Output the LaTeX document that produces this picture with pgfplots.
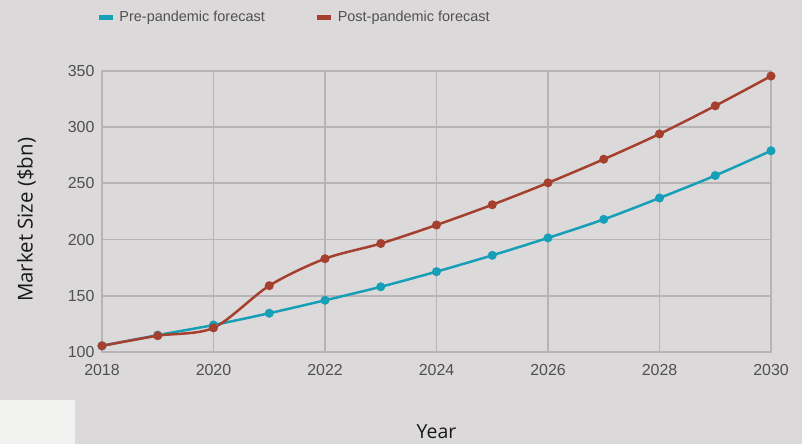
\documentclass[border=0pt]{standalone}
\usepackage{fontspec}
\setmainfont{Liberation Sans}
\newfontfamily\labelfont{Open Sans}
\usepackage{pgfplots}
\pgfplotsset{compat=1.18}

\definecolor{bg}{HTML}{DCD9DA}
\definecolor{patch}{HTML}{F2F2F1}
\definecolor{gridc}{HTML}{B6B4B5}
\definecolor{tickc}{HTML}{505050}
\definecolor{preblue}{HTML}{169FB7}
\definecolor{postred}{HTML}{A5402F}

\begin{document}
\begin{tikzpicture}[x=1bp,y=1bp]
\fill[bg] (0,0) rectangle (802,444);
\useasboundingbox (0,0) rectangle (802,444);
\fill[patch] (0,0) rectangle (75,44);
\begin{axis}[
    at={(102bp,92bp)}, anchor=south west,
    scale only axis, width=669bp, height=281bp,
    xmin=2018, xmax=2030, ymin=100, ymax=350,
    xtick={2018,2020,...,2030},
    ytick={100,150,...,350},
    /pgf/number format/1000 sep={},
    /pgf/number format/assume math mode=true,
    grid=major,
    major grid style={gridc, line width=1.8bp},
    axis line style={gridc, line width=1.8bp},
    tick style={draw=none},
    ticklabel style={font=\fontsize{16}{18}\selectfont, text=tickc},
    xticklabel style={yshift=-9bp},
    yticklabel style={xshift=-4bp},
    xlabel={Year},
    xlabel style={font=\labelfont\fontsize{19.5}{22}\selectfont, text=black!90,
        at={(axis description cs:0.5,-0.285)}, anchor=center},
    ylabel={Market Size (\$bn)},
    ylabel style={font=\labelfont\fontsize{20.5}{22}\selectfont, text=black!90,
        at={(axis description cs:-0.113,0.47)}, anchor=center},
    legend columns=2,
    legend style={at={(axis description cs:-0.010,1.192)}, anchor=west,
        draw=none, fill=none, font=\fontsize{14.5}{16}\selectfont, text=tickc,
        /tikz/every even column/.append style={column sep=50bp}},
    legend image code/.code={\fill[#1, draw=none] (0bp,-2.5bp) rectangle (14bp,2.5bp);
        \path[draw=none, fill=none] (0bp,0bp) -- (19bp,0bp);},
]
\addplot[preblue, line width=2.5bp, smooth, mark=*, mark size=3.2bp] coordinates {
    (2018,105.5) (2019,115) (2020,124) (2021,134.5) (2022,146)
    (2023,158) (2024,171.5) (2025,186) (2026,201.5) (2027,218)
    (2028,237) (2029,257) (2030,279)
};
\addlegendentry{Pre-pandemic forecast}
\addplot[postred, line width=2.5bp, smooth, mark=*, mark size=3.2bp] coordinates {
    (2018,105.5) (2019,114.5) (2020,121.5) (2021,159) (2022,183)
    (2023,196.5) (2024,213) (2025,231) (2026,250.5) (2027,271.5)
    (2028,294) (2029,319) (2030,345.5)
};
\addlegendentry{Post-pandemic forecast}
\end{axis}
\end{tikzpicture}
\end{document}
